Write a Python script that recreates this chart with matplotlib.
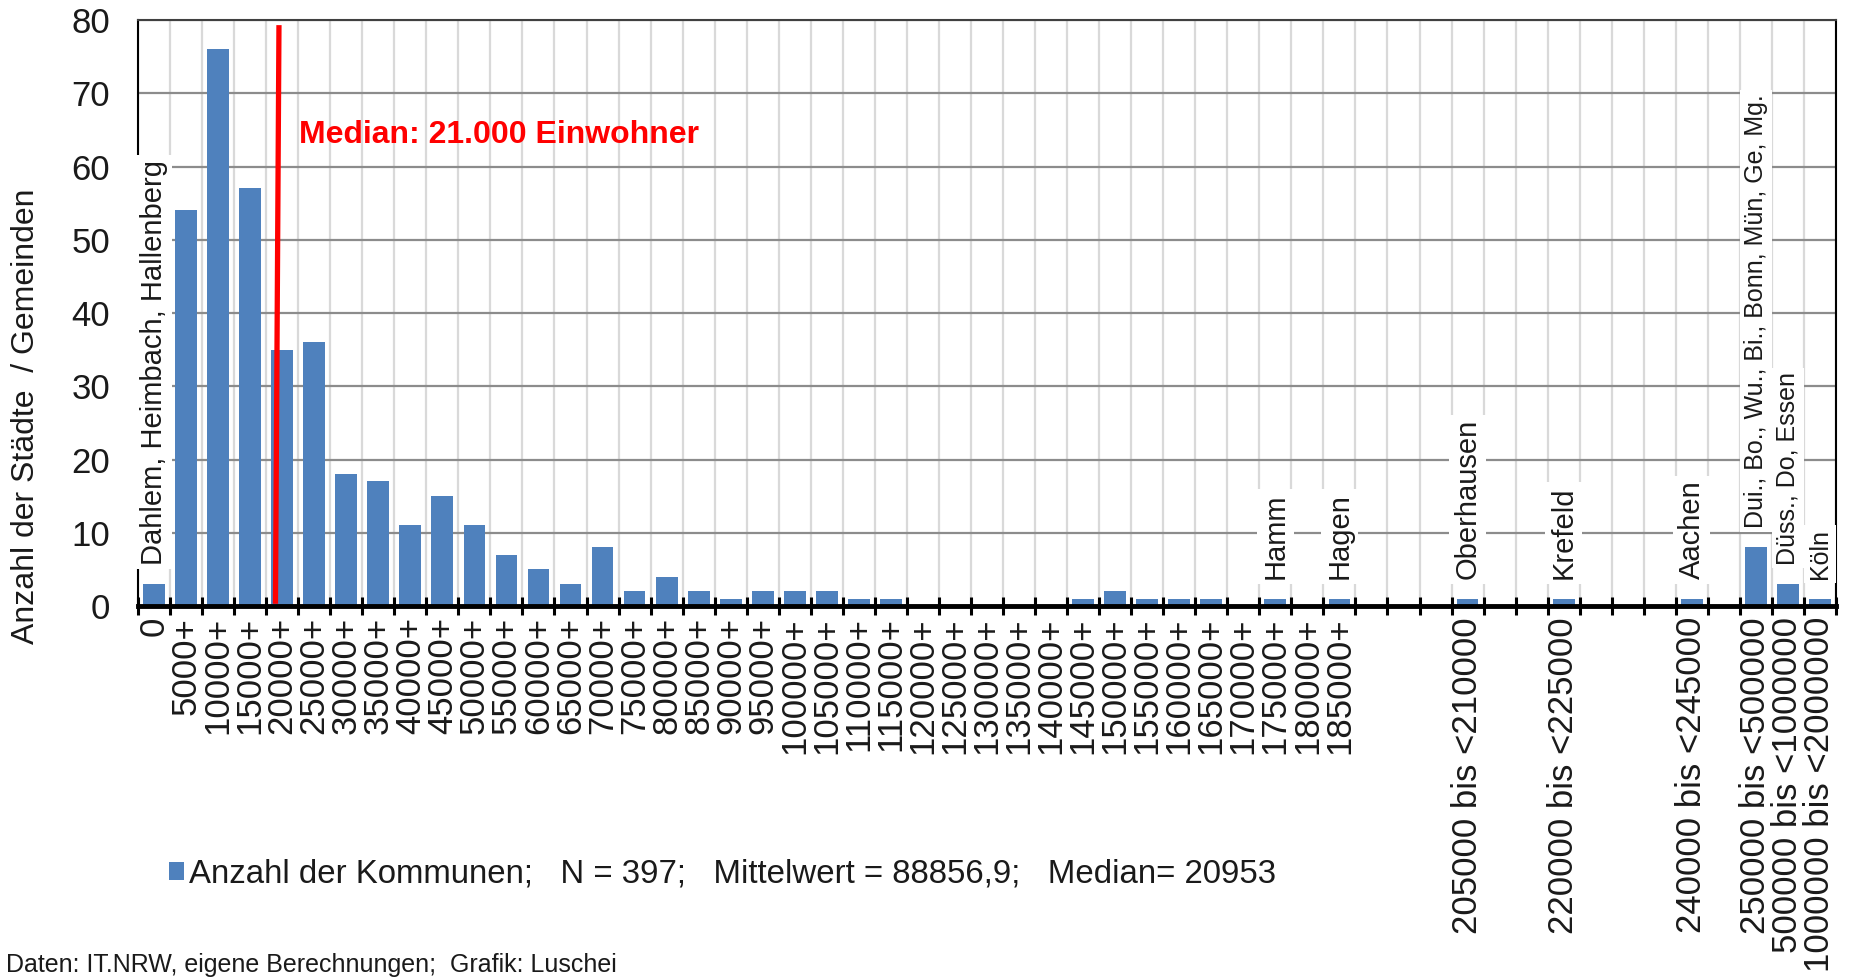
import numpy as np
import matplotlib
matplotlib.use('Agg')
import matplotlib.pyplot as plt
from matplotlib.ticker import FixedLocator

# ---------------- data ----------------
categories = [
    '0', '5000+', '10000+', '15000+', '20000+', '25000+', '30000+', '35000+',
    '40000+', '45000+', '50000+', '55000+', '60000+', '65000+', '70000+',
    '75000+', '80000+', '85000+', '90000+', '95000+', '100000+', '105000+',
    '110000+', '115000+', '120000+', '125000+', '130000+', '135000+',
    '140000+', '145000+', '150000+', '155000+', '160000+', '165000+',
    '170000+', '175000+', '180000+', '185000+',
    '', '', '', '205000 bis <210000', '', '', '220000 bis <225000',
    '', '', '', '240000 bis <245000', '', '250000 bis <500000',
    '500000 bis <1000000', '1000000 bis <2000000',
]
counts = [
    3, 54, 76, 57, 35, 36, 18, 17, 11, 15,
    11, 7, 5, 3, 8, 2, 4, 2, 1, 2,
    2, 2, 1, 1, 0, 0, 0, 0, 0, 1,
    2, 1, 1, 1, 0, 1, 0, 1,
    0, 0, 0, 1, 0, 0, 1, 0, 0, 0, 1, 0, 8, 3, 1,
]
city_label_index = [0, 35, 37, 41, 44, 48, 50, 51, 52]
city_label_text = [
    'Dahlem, Heimbach, Hallenberg', 'Hamm', 'Hagen', 'Oberhausen', 'Krefeld',
    'Aachen', 'Dui., Bo., Wu., Bi., Bonn, Mün, Ge, Mg.', 'Düss., Do, Essen', 'Köln',
]
median_line_x = [3.79, 3.90]      # bottom, top (category position of the red line)
median_line_y = [0.3, 79.3]
median_text = 'Median: 21.000 Einwohner'
legend_text = 'Anzahl der Kommunen;   N = 397;   Mittelwert = 88856,9;   Median= 20953'
y_label = 'Anzahl der Städte  / Gemeinden'
source_text = 'Daten: IT.NRW, eigene Berechnungen;  Grafik: Luschei'

# ---------------- style ----------------
plt.rcParams['font.family'] = ['Liberation Sans', 'DejaVu Sans']
BAR = '#4F81BD'
TXT = '#1a1a1a'
city_label_size = [21, 21, 21, 21, 21, 21, 18, 18, 18]

W, H = 1851, 980
fig = plt.figure(figsize=(W / 100, H / 100), dpi=100)
ax = fig.add_axes([138 / W, 1 - 606 / H, (1836 - 138) / W, (606 - 20) / H])

x = np.arange(len(counts))
bars = ax.bar(x, counts, width=0.68, color=BAR, edgecolor='none', zorder=2)

ax.set_xlim(-0.5, len(counts) - 0.5)
ax.set_ylim(0, 80)
ax.set_yticks(np.arange(0, 81, 10))
ax.set_xticks(x)
ax.set_xticklabels(categories, rotation=90, fontsize=25, color=TXT)
ax.xaxis.set_minor_locator(FixedLocator(np.arange(-0.5, len(counts), 1.0)))
ax.tick_params(axis='x', which='major', length=0, pad=8)
ax.tick_params(axis='x', which='minor', length=13, width=2.2,
               direction='inout', color='black')
ax.tick_params(axis='y', length=0, pad=20, labelsize=25, labelcolor=TXT)

ax.set_axisbelow(True)
ax.grid(axis='y', which='major', color='#8c8c8c', lw=1.6)
ax.grid(axis='x', which='minor', color='#d9d9d9', lw=1.6)
ax.grid(False, axis='x', which='major')

ax.spines['bottom'].set_linewidth(3.5)
ax.spines['bottom'].set_color('black')
ax.spines['left'].set_linewidth(1.5)
ax.spines['left'].set_color('black')
ax.spines['right'].set_linewidth(1.5)
ax.spines['right'].set_color('black')
ax.spines['top'].set_linewidth(1.5)
ax.spines['top'].set_color('#404040')

# median line and text
ax.plot(median_line_x, median_line_y, color='#FF0000', lw=3.8,
        solid_capstyle='butt', zorder=4)
ax.text(4.52, 64.3, median_text, color='#FF0000', fontsize=23,
        fontweight='bold', ha='left', va='center', zorder=5)

# city labels
for idx, txt, fs in zip(city_label_index, city_label_text, city_label_size):
    ax.annotate(txt, xy=(idx, counts[idx]), xytext=(0, 14),
                textcoords='offset points', rotation=90, ha='center',
                va='bottom', fontsize=fs, color=TXT, zorder=5,
                bbox=dict(boxstyle='square,pad=0.15', fc='white', ec='none'))

# y label
fig.text(26 / W, 1 - 416 / H, y_label, rotation=90, fontsize=23,
         color=TXT, ha='center', va='center')

# legend
fig.legend([bars], [legend_text], loc='center left',
           bbox_to_anchor=(169 / W, 1 - 874 / H), frameon=False,
           fontsize=23.8, handlelength=0.45, handleheight=0.45,
           handletextpad=0.15, borderaxespad=0, borderpad=0,
           labelcolor=TXT)

# source
fig.text(6 / W, 1 - 965 / H, source_text, fontsize=18, color=TXT,
         ha='left', va='center')

fig.savefig('out.png', dpi=100)
